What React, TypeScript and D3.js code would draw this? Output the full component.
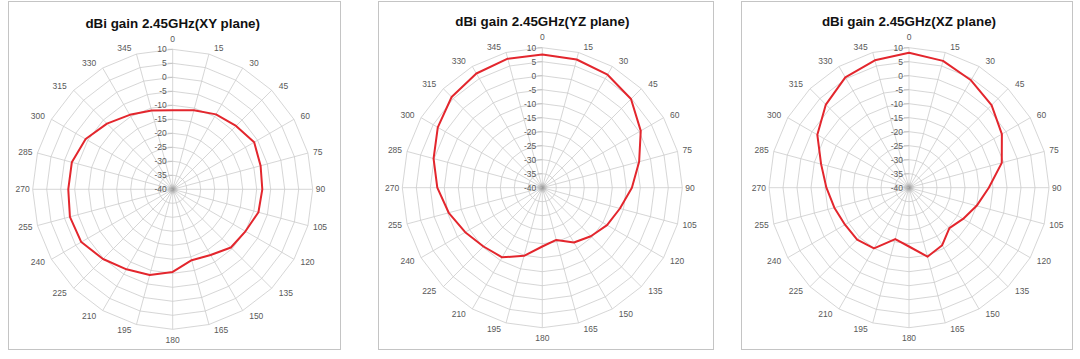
import React from "react";
import * as d3 from "d3";

const angles = [0, 15, 30, 45, 60, 75, 90, 105, 120, 135, 150, 165, 180, 195, 210, 225, 240, 255, 270, 285, 300, 315, 330, 345];
const radialTicks = [10, 5, 0, -5, -10, -15, -20, -25, -30, -35, -40];
const xyGain = [-11.8, -10.8, -9.1, -8.0, -6.4, -7.5, -8.0, -8.3, -10.0, -10.6, -12.9, -13.8, -10.5, -8.3, -7.0, -4.8, -2.3, -2.0, -2.7, -2.7, -4.1, -6.8, -9.3, -10.9];
const yzGain = [7.6, 7.4, 6.6, 4.8, 0.6, -4.2, -8.0, -11.3, -13.3, -15.5, -17.4, -20.7, -19.0, -14.8, -11.3, -10.3, -8.2, -5.4, -2.5, 0.2, 3.1, 5.8, 7.1, 7.7];
const xzGain = [8.2, 6.9, 4.3, 1.7, -1.7, -5.7, -11.5, -15.0, -17.7, -19.6, -16.3, -14.5, -19.0, -21.0, -15.0, -13.8, -13.6, -12.4, -10.5, -7.5, -2.2, 2.0, 5.5, 7.1];
const titles = ["dBi gain 2.45GHz(XY plane)", "dBi gain 2.45GHz(YZ plane)", "dBi gain 2.45GHz(XZ plane)"];

const W = 1080;
const H = 359;
const R = 140;

const panels = [
  { title: titles[0], data: xyGain, x: 8, y: 1, w: 332, h: 348, cx: 172.7, cy: 189.3, ty: 23 },
  { title: titles[1], data: yzGain, x: 378, y: 1, w: 335, h: 348, cx: 542.3, cy: 187.7, ty: 21 },
  { title: titles[2], data: xzGain, x: 741, y: 1, w: 331, h: 348, cx: 909, cy: 187.7, ty: 21 },
];

const rScale = d3.scaleLinear().domain([-40, 10]).range([0, R]);
const aScale = d3.scaleLinear().domain([0, 360]).range([0, 2 * Math.PI]);

const GRID = "#cccccc";
const TXT = "#595959";
const FONT = "'Liberation Sans', Arial, sans-serif";

function Panel({ p }: { p: (typeof panels)[number] }) {
  const ring = (v: number) =>
    d3
      .lineRadial<number>()
      .angle((a) => aScale(a))
      .radius(() => rScale(v))
      .curve(d3.curveLinearClosed)(angles) as string;
  const dataLine = d3
    .lineRadial<number>()
    .angle((_, i) => aScale(angles[i]))
    .radius((d) => rScale(d))
    .curve(d3.curveLinearClosed)(p.data) as string;

  return (
    <g>
      <rect x={p.x + 0.5} y={p.y + 0.5} width={p.w} height={p.h} fill="#fff" stroke="#c4c4c4" strokeWidth={1} />
      <text
        x={p.cx}
        y={p.ty}
        textAnchor="middle"
        dominantBaseline="central"
        fontFamily={FONT}
        fontWeight="bold"
        fontSize={13.4}
        fill="#111"
      >
        {p.title}
      </text>
      <g transform={`translate(${p.cx},${p.cy})`}>
        {radialTicks.map((v) => (
          <path key={"r" + v} d={ring(v)} fill="none" stroke={GRID} strokeWidth={0.8} />
        ))}
        {angles.map((a) => {
          const t = aScale(a);
          return (
            <line
              key={"s" + a}
              x1={0}
              y1={0}
              x2={R * Math.sin(t)}
              y2={-R * Math.cos(t)}
              stroke={GRID}
              strokeWidth={0.8}
            />
          );
        })}
        <circle r={6} fill="url(#hub)" />
        {radialTicks.map((v) => (
          <line key={"t" + v} x1={-5} x2={0} y1={-rScale(v)} y2={-rScale(v)} stroke="#bdbdbd" strokeWidth={0.8} />
        ))}
        {radialTicks.map((v) => (
          <text
            key={"l" + v}
            x={-6}
            y={-rScale(v)}
            textAnchor="end"
            dominantBaseline="central"
            fontFamily={FONT}
            fontSize={8.5}
            fill={TXT}
          >
            {v}
          </text>
        ))}
        {angles.map((a) => {
          const t = aScale(a);
          const s = Math.sin(t);
          const c = Math.cos(t);
          const ex = R * s;
          const ey = -R * c;
          let anchor = "middle";
          let x = ex;
          let y = ey - c * 6;
          if (Math.abs(s) < 0.01) {
            y = ey - c * 10.5;
          } else if (s > 0) {
            anchor = "start";
            x = ex + 3 + 8 * Math.abs(s) * Math.abs(c);
          } else {
            anchor = "end";
            x = ex - 3 - 8 * Math.abs(s) * Math.abs(c);
          }
          return (
            <text
              key={"a" + a}
              x={x}
              y={y}
              textAnchor={anchor}
              dominantBaseline="central"
              fontFamily={FONT}
              fontSize={8.5}
              fill={TXT}
            >
              {a}
            </text>
          );
        })}
        <path d={dataLine} fill="none" stroke="#e3262d" strokeWidth={2} strokeLinejoin="round" />
      </g>
    </g>
  );
}

export default function App() {
  return (
    <svg
      width={W}
      height={H}
      viewBox={`0 0 ${W} ${H}`}
      style={{ position: "absolute", left: 0, top: 0, display: "block", background: "#fff" }}
    >
      <defs>
        <radialGradient id="hub">
          <stop offset="0%" stopColor="#8a8a8a" stopOpacity={0.9} />
          <stop offset="100%" stopColor="#bbbbbb" stopOpacity={0} />
        </radialGradient>
      </defs>
      <rect x={0} y={0} width={W} height={H} fill="#fff" />
      {panels.map((p, i) => (
        <Panel key={i} p={p} />
      ))}
    </svg>
  );
}
